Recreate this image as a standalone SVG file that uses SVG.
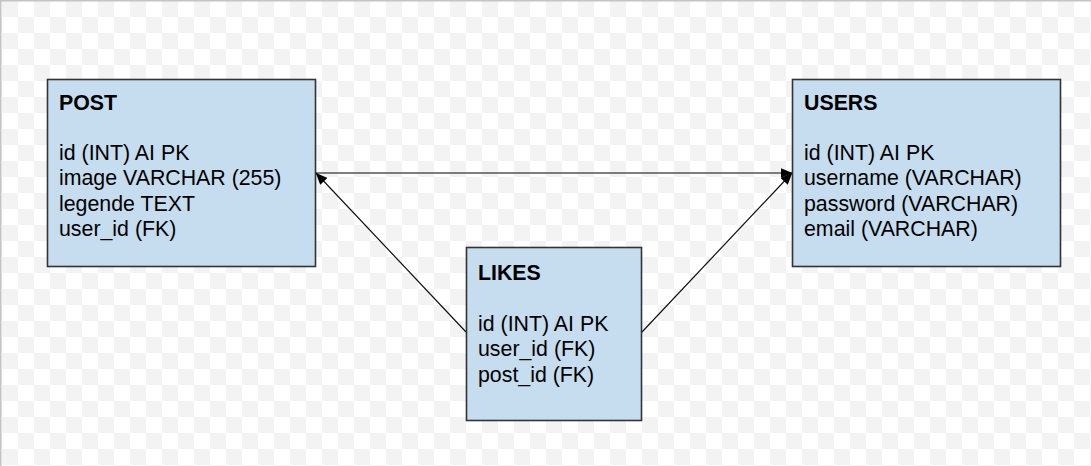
<svg xmlns="http://www.w3.org/2000/svg" width="1091" height="466" viewBox="0 0 1091 466">
<defs>
<pattern id="checker" x="2" y="1" width="32" height="32" patternUnits="userSpaceOnUse">
<rect x="0" y="0" width="32" height="32" fill="#ffffff"/>
<rect x="0" y="0" width="16" height="16" fill="#f3f3f3"/>
<rect x="16" y="16" width="16" height="16" fill="#f3f3f3"/>
</pattern>
<marker id="arrow" viewBox="0 0 12 10" refX="11.5" refY="5" markerWidth="12" markerHeight="10" markerUnits="userSpaceOnUse" orient="auto">
<path d="M0,0 L12,5 L0,10 Z" fill="#000"/>
</marker>
</defs>
<style>
.box{fill:#c6dcef;stroke:#333333;stroke-width:1.6}
.title{font-family:"Liberation Sans",Arial,sans-serif;font-size:21.33px;font-weight:bold;fill:#000}
.field{font-family:"Liberation Sans",Arial,sans-serif;font-size:21.33px;fill:#000}
.conn{fill:none;stroke:#111;stroke-width:1.2}
.connh{fill:none;stroke:#555;stroke-width:1.6}
</style>
<rect x="0" y="0" width="1091" height="466" fill="url(#checker)"/>
<path d="M0.75,466 V0.75 H1091" fill="none" stroke="#c4c4c4" stroke-width="1.5"/>
<g id="connectors">
<line class="connh" x1="316" y1="173" x2="792" y2="173" marker-end="url(#arrow)"/>
<line class="conn" x1="466" y1="332" x2="316" y2="173" marker-end="url(#arrow)"/>
<line class="conn" x1="642" y1="332" x2="792" y2="173" marker-end="url(#arrow)"/>
</g>
<g id="post">
<rect class="box" x="47.5" y="79.5" width="268" height="187"/>
<text class="title" x="59" y="109.5">POST</text>
<text class="field" x="59" y="159.5">id (INT) AI PK</text>
<text class="field" x="59" y="185">image VARCHAR (255)</text>
<text class="field" x="59" y="210.6">legende TEXT</text>
<text class="field" x="59" y="236.2">user_id (FK)</text>
</g>
<g id="users">
<rect class="box" x="792.5" y="79.5" width="268" height="187"/>
<text class="title" x="804" y="109.5">USERS</text>
<text class="field" x="804" y="159.5">id (INT) AI PK</text>
<text class="field" x="804" y="185">username (VARCHAR)</text>
<text class="field" x="804" y="210.6">password (VARCHAR)</text>
<text class="field" x="804" y="236.2">email (VARCHAR)</text>
</g>
<g id="likes">
<rect class="box" x="466.5" y="247.5" width="175" height="173"/>
<text class="title" x="478" y="280">LIKES</text>
<text class="field" x="478" y="330.5">id (INT) AI PK</text>
<text class="field" x="478" y="356">user_id (FK)</text>
<text class="field" x="478" y="381.6">post_id (FK)</text>
</g>
</svg>
